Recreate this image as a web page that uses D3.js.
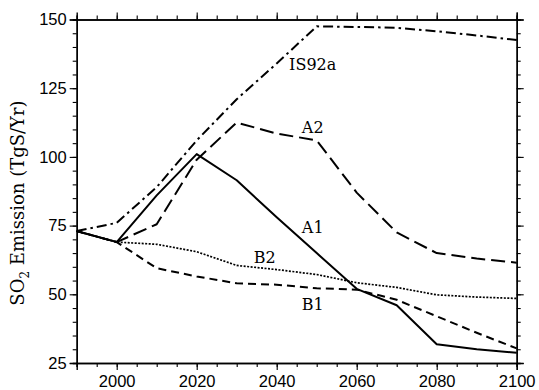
<!DOCTYPE html>
<html>
<head>
<meta charset="utf-8">
<script src="https://cdn.jsdelivr.net/npm/d3@7"></script>
<style>
  body { margin: 0; background: #fff; }
  svg { display: block; font-family: "DejaVu Serif", "Liberation Serif", serif; }
</style>
</head>
<body>
<div id="chart"></div>
<script>
const years = [1990, 2000, 2010, 2020, 2030, 2040, 2050, 2060, 2070, 2080, 2090, 2100];

const is92a = [73, 76, 89, 106, 121, 134, 147.5, 147.3, 147, 145.7, 144.2, 142.5];
const a2 = [73, 69, 75.5, 99, 112.5, 108.5, 106, 87, 72.5, 65, 63, 61.5];
const a1 = [73, 69, 86, 101, 91.5, 78, 65, 52, 46, 31.8, 30, 28.7];
const b2 = [73, 69, 68.2, 65.5, 60.5, 59, 57.2, 54.2, 52.5, 49.8, 49, 48.5];
const b1 = [73, 69, 59.5, 56.5, 54, 53.5, 52.2, 51.7, 48, 42, 36, 30.3];

const xTicks = [2000, 2020, 2040, 2060, 2080, 2100];
const yTicks = [25, 50, 75, 100, 125, 150];

// scenario labels drawn inside the plot
const labelNames = ['IS92a', 'A2', 'A1', 'B2', 'B1'];
const labelYears = [2049, 2049, 2049, 2037, 2049];
const labelValues = [131.6, 108.7, 72.3, 61.4, 44.3];

const width = 539, height = 390;
const margin = { top: 19.5, right: 22.3, bottom: 27, left: 76.7 };

const svg = d3.select('#chart').append('svg')
  .attr('width', width)
  .attr('height', height);

const x = d3.scaleLinear().domain([1990, 2100]).range([margin.left, width - margin.right]);
const y = d3.scaleLinear().domain([25, 150]).range([height - margin.bottom, margin.top]);

const minorX = d3.range(1990, 2101, 5);
const minorY = d3.range(25, 151, 5);

function styleAxis(g) {
  g.select('.domain').attr('stroke', '#000').attr('stroke-width', 1.4);
  g.selectAll('.tick line').attr('stroke', '#000').attr('stroke-width', 1.1);
  g.selectAll('.tick text').attr('font-size', 16.5).attr('fill', '#000');
}

// minor ticks
svg.append('g').attr('transform', `translate(0,${y(25)})`)
  .call(d3.axisBottom(x).tickValues(minorX).tickSize(4).tickFormat('')).call(styleAxis);
svg.append('g').attr('transform', `translate(0,${y(150)})`)
  .call(d3.axisTop(x).tickValues(minorX).tickSize(4).tickFormat('')).call(styleAxis);
svg.append('g').attr('transform', `translate(${x(1990)},0)`)
  .call(d3.axisLeft(y).tickValues(minorY).tickSize(4).tickFormat('')).call(styleAxis);
svg.append('g').attr('transform', `translate(${x(2100)},0)`)
  .call(d3.axisRight(y).tickValues(minorY).tickSize(4).tickFormat('')).call(styleAxis);

// major ticks
svg.append('g').attr('transform', `translate(0,${y(25)})`)
  .call(d3.axisBottom(x).tickValues(xTicks).tickSize(7).tickPadding(5).tickFormat(d3.format('d')))
  .call(styleAxis);
svg.append('g').attr('transform', `translate(0,${y(150)})`)
  .call(d3.axisTop(x).tickValues(xTicks).tickSize(7).tickFormat('')).call(styleAxis);
svg.append('g').attr('transform', `translate(${x(1990)},0)`)
  .call(d3.axisLeft(y).tickValues(yTicks).tickSize(7).tickPadding(3))
  .call(styleAxis);
svg.append('g').attr('transform', `translate(${x(2100)},0)`)
  .call(d3.axisRight(y).tickValues(yTicks).tickSize(7).tickFormat('')).call(styleAxis);

const line = d3.line()
  .x((d, i) => x(years[i]))
  .y(d => y(d));

const series = [
  { values: b1, dash: '8,5', w: 2 },
  { values: b2, dash: '2,1.5', w: 1.7 },
  { values: a2, dash: '14,6', w: 2 },
  { values: is92a, dash: '10,4,2.5,4', w: 2 },
  { values: a1, dash: null, w: 2 }
];

svg.append('g').selectAll('path')
  .data(series)
  .enter()
  .append('path')
  .attr('d', d => line(d.values))
  .attr('fill', 'none')
  .attr('stroke', '#000')
  .attr('stroke-width', d => d.w)
  .attr('stroke-dasharray', d => d.dash)
  .attr('stroke-linejoin', 'round');

svg.append('g').selectAll('text')
  .data(labelNames)
  .enter()
  .append('text')
  .attr('x', (d, i) => x(labelYears[i]))
  .attr('y', (d, i) => y(labelValues[i]))
  .attr('text-anchor', 'middle')
  .attr('font-size', 16)
  .text(d => d);

const yLabel = svg.append('text')
  .attr('transform', `translate(24,203) rotate(-90)`)
  .attr('text-anchor', 'middle')
  .attr('font-size', 18);
yLabel.append('tspan').text('SO');
yLabel.append('tspan').attr('font-size', 12).attr('dy', 5).text('2');
yLabel.append('tspan').attr('dy', -5).text(' Emission (TgS/Yr)');
</script>
</body>
</html>
